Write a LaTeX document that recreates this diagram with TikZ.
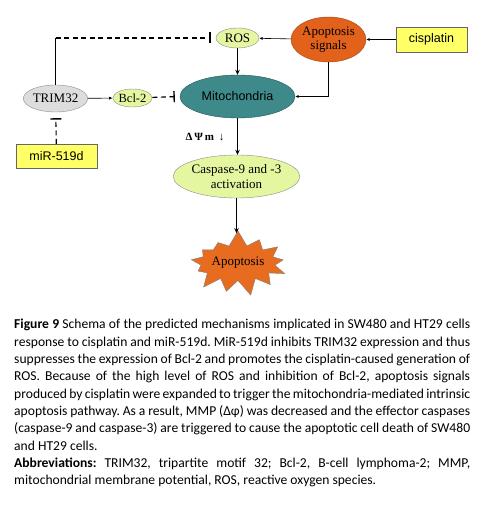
\documentclass[tikz,border=0pt]{standalone}
\usepackage{fontspec}
\setmainfont{Liberation Serif}
\setsansfont{Liberation Sans}
\newfontfamily\capfont{Carlito}
\usetikzlibrary{shapes.geometric,shapes.symbols,arrows.meta}
\definecolor{palegreen}{RGB}{228,246,160}
\definecolor{signalorange}{RGB}{226,98,28}
\definecolor{burstorange}{RGB}{232,108,32}
\definecolor{mitoteal}{RGB}{62,138,138}
\definecolor{boxyellow}{RGB}{255,255,102}
\definecolor{trimgray}{RGB}{221,221,221}
\begin{document}
\begin{tikzpicture}[
    x=1pt, y=-1pt,
    oval/.style={
        ellipse,
        draw=black!45,
        inner sep=0pt,
        text centered,
        font=\fontsize{13}{13}\selectfont
    },
    drugbox/.style={
        rectangle,
        draw=black!60,
        fill=boxyellow,
        inner sep=0pt,
        font=\sffamily\fontsize{12.5}{13}\selectfont
    },
    link/.style={line width=0.6pt, -{Latex[length=3.5pt,width=3pt]}},
    flow/.style={line width=1.1pt, -{Stealth[length=5pt,width=4.5pt]}},
    block/.style={line width=1.1pt, dash pattern=on 5pt off 3.5pt, -{Bar[width=11pt,line width=1.4pt]}}
]
    \useasboundingbox (0,0) rectangle (493,518);

    % Segnali
    \node[oval, fill=palegreen, minimum width=43pt, minimum height=20pt]
         (ros) at (237.5,38) {ROS};
    \node[oval, fill=signalorange, draw=signalorange!70!black, minimum width=75pt, minimum height=45pt, align=center, font=\fontsize{13}{14.5}\selectfont]
         (signals) at (328.5,39.5) {Apoptosis\\signals};
    \node[drugbox, minimum width=71pt, minimum height=25pt]
         (cisplatin) at (431.5,39.5) {cisplatin};

    % Riga centrale
    \node[oval, fill=trimgray, minimum width=63pt, minimum height=27pt]
         (trim) at (55.5,98.5) {TRIM32};
    \node[oval, fill=palegreen, minimum width=39pt, minimum height=18pt, font=\fontsize{12.5}{13}\selectfont]
         (bcl) at (132.5,98) {Bcl-2};
    \node[oval, fill=mitoteal, draw=mitoteal!60!black, minimum width=115pt, minimum height=43pt, font=\sffamily\fontsize{12.5}{13}\selectfont]
         (mito) at (237.5,96.5) {Mitochondria};
    \node[drugbox, minimum width=81pt, minimum height=24pt]
         (mir) at (56.5,156) {miR-519d};

    % Cascata
    \node[font=\bfseries\fontsize{11}{12}\selectfont]
         (dpsi) at (205,137) {Δ\,Ψ\,m\;\,{\fontsize{11}{11}\selectfont↓}};
    \node[oval, fill=palegreen, minimum width=120pt, minimum height=43pt, align=center, font=\fontsize{13}{14.5}\selectfont]
         (casp) at (236.5,176.5) {Caspase-9 and -3\\activation};
    \node[starburst, starburst points=13, starburst point height=16pt, random starburst=7,
          fill=burstorange, draw=black!50, minimum width=102pt, minimum height=67pt, inner sep=0pt,
          font=\fontsize{13}{13}\selectfont]
         (apop) at (238,263) {Apoptosis};

    % Connessioni
    \coordinate (corner) at (trim.north |- ros.west);
    \draw[link] (cisplatin) -- (signals);
    \draw[link] (signals) -- (ros);
    \draw[link] (signals.south) |- (mito.east);
    \draw[flow] (ros) -- (mito);
    \draw[line width=1.1pt] (trim.north) -- (corner);
    \draw[block, shorten >=5pt] (corner) -- (ros.west);
    \draw[link] (trim) -- (bcl);
    \draw[block, shorten >=5pt] (bcl) -- (mito.west);
    \draw[block, shorten >=6pt] (mir) -- (trim);
    \draw[flow] (mito.south) -- (mito.south |- casp.north);
    \draw[flow] (casp.south) -- ++(0,35);

    % Didascalia
    \node[anchor=north west, inner sep=0pt, text width=456pt, align=justify,
          font=\capfont\fontsize{13.6}{17.35}\selectfont]
         (caption) at (14,319) {\hyphenpenalty=10000\frenchspacing
        \textbf{Figure 9} Schema of the predicted mechanisms implicated in SW480 and HT29 cells\linebreak
        response to cisplatin and miR-519d. MiR-519d inhibits TRIM32 expression and thus\linebreak
        suppresses the expression of Bcl-2 and promotes the cisplatin-caused generation of\linebreak
        ROS. Because of the high level of ROS and inhibition of Bcl-2, apoptosis signals\linebreak
        produced by cisplatin were expanded to trigger the mitochondria-mediated intrinsic\linebreak
        apoptosis pathway. As a result, MMP (Δφ) was decreased and the effector caspases\linebreak
        (caspase-9 and caspase-3) are triggered to cause the apoptotic cell death of SW480\linebreak
        and HT29 cells.\par
        \textbf{Abbreviations:} TRIM32, tripartite motif 32; Bcl-2, B-cell lymphoma-2; MMP,\linebreak
        mitochondrial membrane potential, ROS, reactive oxygen species.};
\end{tikzpicture}
\end{document}
